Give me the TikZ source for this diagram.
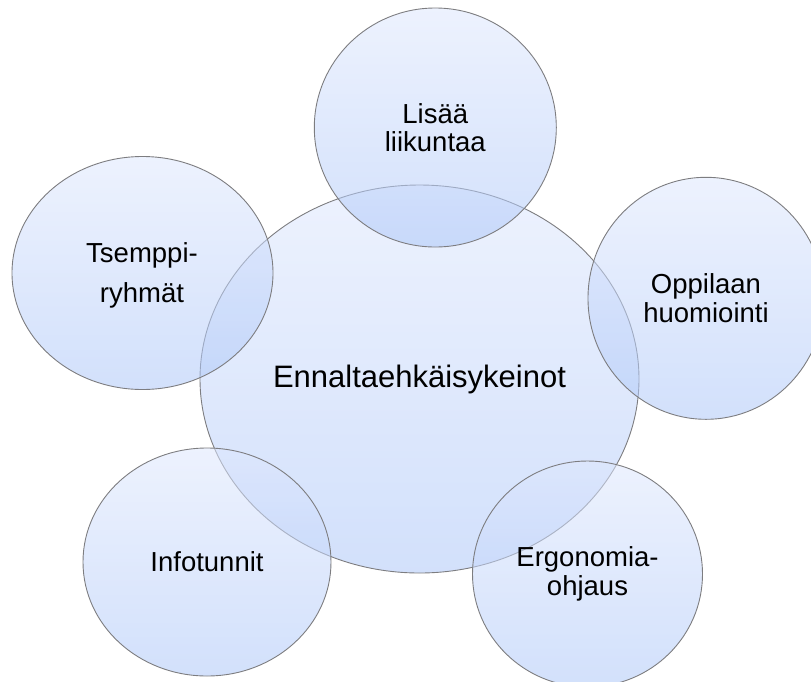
\documentclass[tikz,border=0pt]{standalone}
\usepackage{fontspec}
\setmainfont{Liberation Sans}
\usetikzlibrary{shapes.geometric}
\definecolor{bubbletop}{RGB}{222,231,253}
\definecolor{bubblebottom}{RGB}{173,199,248}
\definecolor{rim}{RGB}{125,125,128}
\begin{document}
\begin{tikzpicture}[x=1pt,y=-1pt,
  bubble/.style={ellipse, draw=rim, line width=0.9pt,
    top color=bubbletop, bottom color=bubblebottom,
    fill opacity=0.55, text opacity=1, inner sep=0pt, align=center,
    font=\fontsize{27.5}{28.5}\selectfont},
  hub/.style={bubble, font=\fontsize{31}{34}\selectfont}]
\useasboundingbox (0,0) rectangle (811,681);
\clip (0,0) rectangle (811,681);
% central bubble
\node[hub, minimum width=439pt, minimum height=388pt] (hub) at (419.5,379) {Ennaltaehkäisykeinot};
% surrounding bubbles
\node[bubble, minimum width=242pt, minimum height=239pt] (move) at (435.3,127.5) {Lisää\\liikuntaa};
\node[bubble, minimum width=261pt, minimum height=233pt] (team) at (142.5,273) {};
\node[font=\fontsize{27.5}{28.5}\selectfont, align=center, inner sep=0pt] (teamtext) at (142,275.5) {Tsemppi-\\[11.5pt]ryhmät};
\node[bubble, minimum width=236pt, minimum height=242pt] (pupil) at (706,298.3) {Oppilaan\\huomiointi};
\node[bubble, minimum width=248pt, minimum height=228pt] (info) at (207,562) {Infotunnit};
\node[bubble, minimum width=230pt, minimum height=226pt] (ergo) at (587.5,574) {Ergonomia-\\ohjaus};
\end{tikzpicture}
\end{document}
